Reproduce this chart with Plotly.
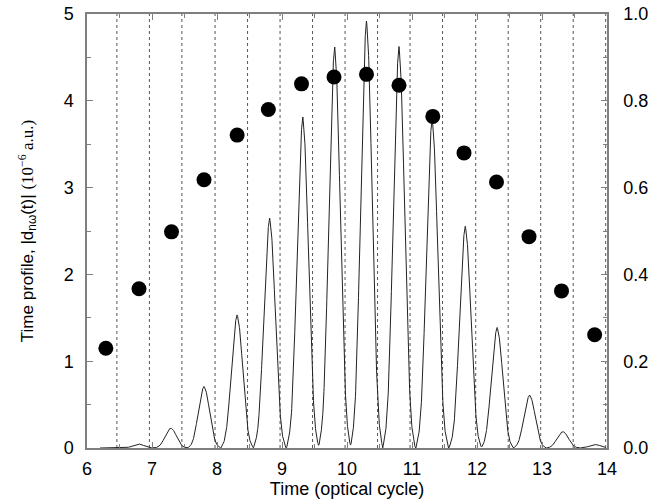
import numpy as np
import plotly.graph_objects as go

# Peak centres (optical cycle) and peak heights of |d(t)| (10^-6 a.u.)
peak_t = [6.79, 7.29, 7.80, 8.31, 8.81, 9.32, 9.81, 10.30, 10.80, 11.31, 11.82, 12.31, 12.81, 13.32, 13.82]
peak_height = [0.046, 0.23, 0.71, 1.536, 2.65, 3.82, 4.63, 4.93, 4.63, 3.80, 2.56, 1.39, 0.61, 0.19, 0.04]

# Shape of one burst (offset from centre, fraction of height)
profile_offset = [0.0, 0.025, 0.05, 0.075, 0.10, 0.125, 0.15, 0.175, 0.20, 0.225, 0.25]
profile_frac = [1.0, 0.95, 0.84, 0.67, 0.50, 0.34, 0.20, 0.10, 0.05, 0.02, 0.0]

# Filled circles (right axis)
dot_t = [6.29, 6.80, 7.30, 7.80, 8.31, 8.79, 9.30, 9.80, 10.30, 10.80, 11.32, 11.80, 12.30, 12.80, 13.30, 13.81]
dot_val = [0.230, 0.367, 0.498, 0.618, 0.721, 0.780, 0.839, 0.855, 0.861, 0.836, 0.764, 0.680, 0.613, 0.487, 0.362, 0.261]

# Dotted vertical guide lines (half-cycle boundaries)
guide_t = [6.46, 6.96, 7.46, 7.97, 8.47, 8.97, 9.47, 9.97, 10.47, 10.97, 11.47, 11.98, 12.48, 12.98, 13.48, 13.98]

x_ticks = [6, 7, 8, 9, 10, 11, 12, 13, 14]
y_ticks = [0, 1, 2, 3, 4, 5]
y2_ticks = [0.0, 0.2, 0.4, 0.6, 0.8, 1.0]

# Build the continuous curve from the read peak table
t = np.linspace(6.2, 13.98, 3000)
off = np.array(profile_offset)
frac = np.array(profile_frac)
curve = np.zeros_like(t)
for c, h in zip(peak_t, peak_height):
    d = np.abs(t - c)
    curve += h * np.interp(d, off, frac, right=0.0)

FONT = "Liberation Sans, Arial, Helvetica, sans-serif"
AX = "#7f7f7f"

y_title = ("Time profile, |d<sub>nω</sub>(t)| "
           "<span style='font-family:Liberation Serif, Times New Roman, serif'>"
           "(10<sup>−6</sup> a.u.)</span>")

fig = go.Figure()
fig.add_trace(go.Scatter(x=t, y=curve, mode="lines",
                         line=dict(color="#222222", width=1), showlegend=False,
                         hoverinfo="skip"))
fig.add_trace(go.Scatter(x=dot_t, y=dot_val, mode="markers", yaxis="y2",
                         marker=dict(color="black", size=15), showlegend=False))

for g in guide_t:
    fig.add_shape(type="line", xref="x", yref="paper", x0=g, x1=g, y0=0, y1=1,
                  line=dict(color="#555555", width=1, dash="dot"), layer="below")

fig.update_layout(
    width=650, height=503,
    margin=dict(l=87, r=43, t=14, b=55),
    plot_bgcolor="white", paper_bgcolor="white",
    font=dict(family=FONT, size=18, color="black"),
    xaxis=dict(range=[6, 14], tickvals=x_ticks, ticks="inside", ticklen=6,
               tickcolor=AX, showline=True, linecolor=AX, linewidth=1.5,
               mirror="ticks", showgrid=False, zeroline=False, automargin=False,
               minor=dict(dtick=0.5, ticks="inside", ticklen=4, tickcolor=AX),
               title=dict(text="Time (optical cycle)", standoff=4,
                          font=dict(size=18)),
               ticklabelstandoff=4),
    yaxis=dict(range=[0, 5], tickvals=y_ticks, ticks="inside", ticklen=6,
               tickcolor=AX, showline=True, linecolor=AX, linewidth=1.5,
               showgrid=False, zeroline=False, automargin=False,
               minor=dict(dtick=0.5, ticks="inside", ticklen=4, tickcolor=AX),
               title=dict(text=y_title, standoff=26, font=dict(size=17)),
               ticklabelstandoff=8),
    yaxis2=dict(range=[0, 1], tickvals=y2_ticks, tickformat=".1f", overlaying="y",
                side="right", ticks="inside", ticklen=6, tickcolor=AX,
                showline=True, linecolor=AX, linewidth=1.5, showgrid=False,
                zeroline=False, automargin=False,
                minor=dict(dtick=0.1, ticks="inside", ticklen=4, tickcolor=AX),
                ticklabelstandoff=11),
)

fig.write_html("out.html")
